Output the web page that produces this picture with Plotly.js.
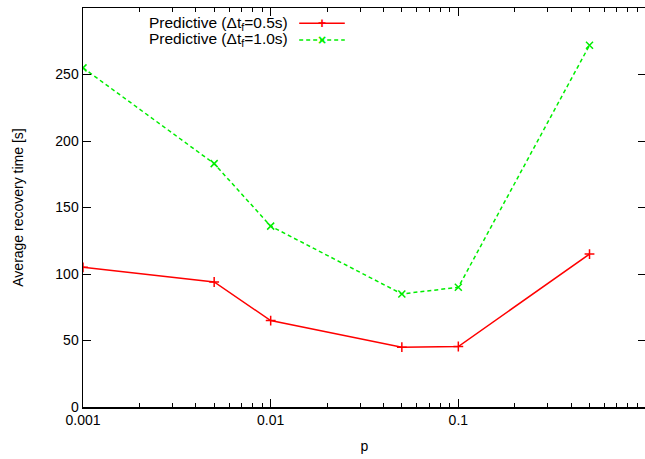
<!DOCTYPE html>
<html><head><meta charset="utf-8">
<script src="https://cdn.plot.ly/plotly-3.0.1.min.js"></script>
<style>html,body{margin:0;padding:0;overflow:hidden;background:#fff}</style>
</head><body>
<div id="chart" style="width:646px;height:459px"></div>
<script>
const pValues = [0.001, 0.005, 0.01, 0.05, 0.1, 0.5];
const recovery05 = [105, 94, 65, 45, 45.5, 115];
const recovery10 = [255, 183, 136, 85, 90, 272];
const seriesNames = ['Predictive (\u0394t<sub>f</sub>=0.5s)', 'Predictive (\u0394t<sub>f</sub>=1.0s)'];
const xTicks = [0.001, 0.01, 0.1];
const xTickText = ['0.001', '0.01', '0.1'];
const xMinorTicks = [0.002,0.003,0.004,0.005,0.006,0.007,0.008,0.009,
                     0.02,0.03,0.04,0.05,0.06,0.07,0.08,0.09,
                     0.2,0.3,0.4,0.5,0.6,0.7,0.8,0.9];
const yTicks = [0, 50, 100, 150, 200, 250, 300];

const font = {family: 'Liberation Sans, Arial, sans-serif', size: 14, color: '#000'};
const legendFont = {family: 'Liberation Sans, Arial, sans-serif', size: 15.5, color: '#000'};

const traces = [
  {x: pValues, y: recovery05, type: 'scatter', mode: 'lines+markers', name: seriesNames[0],
   line: {color: '#ff0000', width: 1.5},
   marker: {symbol: 'cross-thin', size: 7, line: {color: '#ff0000', width: 1.5}}},
  {x: pValues, y: recovery10, type: 'scatter', mode: 'lines+markers', name: seriesNames[1],
   line: {color: '#00ee00', width: 1.5, dash: '4px,3px'},
   marker: {symbol: 'x-thin', size: 7, line: {color: '#00ee00', width: 1.5}}}
];

const legendY = [0.962, 0.92];
const legendColors = ['#ff0000', '#00ee00'];
const legendDash = ['solid', '4px,3px'];
const legendMarks = ['+', '\u00d7'];
const annotations = [];
const shapes = [];
for (let i = 0; i < 2; i++) {
  annotations.push({xref: 'paper', yref: 'paper', x: 0.368, y: legendY[i], xanchor: 'right', yanchor: 'middle',
    text: seriesNames[i], showarrow: false, font: legendFont});
  shapes.push({type: 'line', xref: 'paper', yref: 'paper', x0: 0.384, x1: 0.465, y0: legendY[i], y1: legendY[i],
    line: {color: legendColors[i], width: 1.5, dash: legendDash[i]}});
  annotations.push({xref: 'paper', yref: 'paper', x: 0.4245, y: legendY[i], xanchor: 'center', yanchor: 'middle',
    text: '<b>' + legendMarks[i] + '</b>', showarrow: false, font: {family: font.family, size: 14, color: legendColors[i]}});
}

const layout = {
  width: 646, height: 459,
  margin: {l: 83, r: 0, t: 8, b: 52},
  paper_bgcolor: '#fff', plot_bgcolor: '#fff',
  font: font,
  showlegend: false,
  xaxis: {
    type: 'log', range: [-3, 0], tickvals: xTicks, ticktext: xTickText,
    ticks: 'inside', ticklen: 8, tickwidth: 1, tickcolor: '#000',
    showline: true, linecolor: '#000', linewidth: 1.5, mirror: 'ticks',
    showgrid: false, zeroline: false,
    minor: {tickvals: xMinorTicks, ticks: 'inside', ticklen: 4, tickwidth: 1, tickcolor: '#000', showgrid: false},
    title: {text: 'p', font: font, standoff: 14},
    tickfont: font
  },
  yaxis: {
    range: [0, 300], tickvals: yTicks,
    ticks: 'inside', ticklen: 8, tickwidth: 1, tickcolor: '#000',
    showline: true, linecolor: '#000', linewidth: 1.5, mirror: 'ticks',
    showgrid: false, zeroline: false,
    title: {text: 'Average recovery time [s]', font: font, standoff: 28},
    tickfont: font
  },
  annotations: annotations,
  shapes: shapes
};

Plotly.newPlot('chart', traces, layout, {displayModeBar: false, staticPlot: true});
</script>
</body></html>
